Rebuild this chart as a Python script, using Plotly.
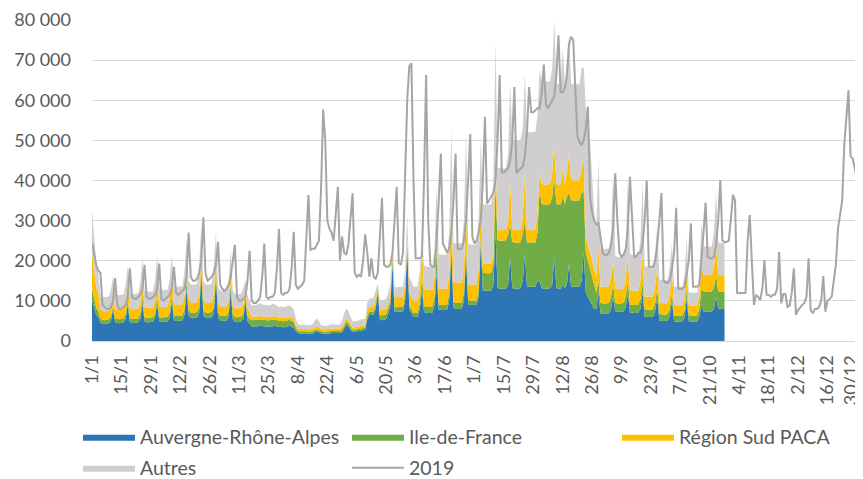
import plotly.graph_objects as go
import numpy as np

# daily values in thousands, 2020 from 1/1 (Wed) to 28/10, one row per week (Sun..Sat)
auvergne_k = [
    10.2, 8.5, 6.5, 6.0,
    4.6, 4.3, 4.2, 4.3, 4.4, 5.0, 8.0,
    4.6, 4.4, 4.4, 4.5, 4.6, 5.5, 9.0,
    4.8, 4.5, 4.5, 4.6, 4.7, 5.6, 9.5,
    4.9, 4.6, 4.7, 4.7, 4.8, 5.8, 9.5,
    5.0, 4.7, 4.8, 4.8, 4.9, 6.0, 10.0,
    5.2, 5.0, 5.0, 5.1, 5.2, 6.5, 13.0,
    6.5, 5.8, 5.7, 5.8, 5.9, 7.0, 16.5,
    6.5, 5.8, 5.7, 5.8, 5.9, 7.0, 15.5,
    6.0, 5.0, 5.0, 5.0, 5.1, 6.0, 12.5,
    5.5, 4.8, 4.7, 4.8, 4.9, 5.5, 10.0,
    5.0, 4.2, 3.6, 3.6, 3.6, 3.7, 3.8,
    3.7, 3.6, 3.6, 3.6, 3.6, 3.7, 3.8,
    3.6, 3.5, 3.5, 3.4, 3.5, 3.6, 3.8,
    3.5, 3.3, 2.5, 2.0, 1.9, 1.9, 2.0,
    1.9, 1.8, 1.9, 1.9, 2.2, 2.4, 2.2,
    1.9, 1.8, 1.8, 1.8, 1.9, 2.0, 2.0,
    1.9, 1.9, 2.0, 2.2, 3.2, 4.0, 3.6,
    3.0, 2.2, 2.3, 2.4, 2.5, 2.7, 2.8,
    2.8, 5.5, 6.5, 6.5, 6.6, 8.0, 12.3,
    5.3, 5.2, 5.3, 5.5, 7.0, 9.0, 19.3,
    7.3, 7.2, 7.3, 7.3, 7.4, 10.0, 23.5,
    8.0, 7.0, 6.0, 6.0, 6.1, 8.0, 13.0,
    7.2, 7.0, 7.0, 7.0, 7.1, 9.0, 17.0,
    7.8, 7.7, 7.7, 7.7, 7.8, 10.0, 22.7,
    8.2, 8.0, 8.0, 8.0, 8.1, 10.0, 21.0,
    9.2, 9.0, 9.0, 9.0, 9.1, 11.0, 24.3,
    12.6, 12.5, 12.5, 12.5, 12.6, 14.0, 27.0,
    13.2, 13.0, 13.0, 13.0, 13.1, 14.0, 21.0,
    13.2, 13.0, 13.0, 13.0, 13.2, 15.0, 21.8,
    13.6, 13.5, 13.5, 13.5, 13.6, 15.0, 14.8,
    13.2, 13.0, 13.0, 13.0, 13.2, 14.0, 20.6,
    13.2, 13.0, 13.0, 14.0, 13.2, 14.0, 19.3,
    13.6, 13.5, 13.5, 13.5, 13.6, 15.0, 22.2,
    12.0, 11.0, 10.0, 9.0, 8.0, 8.0, 12.0,
    6.9, 6.8, 6.7, 6.8, 6.9, 8.0, 11.0,
    7.4, 7.3, 7.2, 7.3, 7.4, 8.5, 12.0,
    7.1, 7.0, 7.0, 7.0, 7.1, 8.0, 12.0,
    6.1, 6.0, 6.0, 6.0, 6.1, 7.5, 11.0,
    5.1, 5.0, 5.0, 5.0, 5.1, 6.5, 10.0,
    4.9, 4.8, 4.8, 4.8, 4.9, 6.0, 10.5,
    4.9, 4.8, 4.8, 4.8, 4.9, 6.0, 9.0,
    7.4, 7.3, 7.3, 7.3, 7.4, 8.0, 11.0,
    8.1, 8.0, 8.0, 8.0,
]

idf_k = [
    3.0, 2.5, 1.8, 1.5,
    1.0, 1.0, 1.0, 1.0, 1.0, 1.0, 1.0,
    1.0, 1.0, 1.0, 1.0, 1.0, 1.1, 1.2,
    1.0, 1.0, 1.0, 1.0, 1.0, 1.1, 1.3,
    1.1, 1.1, 1.1, 1.1, 1.1, 1.2, 1.4,
    1.1, 1.1, 1.1, 1.1, 1.1, 1.3, 1.5,
    1.2, 1.2, 1.2, 1.2, 1.2, 1.4, 1.8,
    1.3, 1.3, 1.3, 1.3, 1.3, 1.5, 1.8,
    1.3, 1.3, 1.3, 1.3, 1.3, 1.5, 1.8,
    1.2, 1.2, 1.2, 1.2, 1.2, 1.3, 1.5,
    1.2, 1.2, 1.2, 1.2, 1.2, 1.2, 1.2,
    1.2, 1.3, 1.6, 1.6, 1.6, 1.6, 1.6,
    1.6, 1.6, 1.6, 1.6, 1.6, 1.6, 1.6,
    1.5, 1.5, 1.5, 1.5, 1.5, 1.5, 1.5,
    1.5, 1.5, 0.8, 0.5, 0.5, 0.5, 0.5,
    0.5, 0.5, 0.5, 0.5, 0.5, 0.5, 0.5,
    0.5, 0.5, 0.5, 0.5, 0.5, 0.5, 0.5,
    0.5, 0.5, 0.5, 0.6, 0.7, 0.8, 0.8,
    0.7, 0.5, 0.5, 0.5, 0.5, 0.5, 0.5,
    0.5, 0.8, 0.8, 0.8, 0.8, 0.9, 0.8,
    1.2, 1.2, 1.2, 1.2, 1.2, 1.2, 1.5,
    1.2, 1.2, 1.2, 1.2, 1.2, 1.3, 0.7,
    1.0, 1.0, 1.0, 1.0, 1.0, 1.5, 3.0,
    1.5, 1.5, 1.5, 1.5, 1.5, 2.0, 5.5,
    1.3, 1.3, 1.3, 1.3, 1.3, 2.0, 1.6,
    1.5, 1.5, 1.5, 1.5, 1.5, 2.0, 3.3,
    1.0, 1.0, 1.0, 1.0, 1.0, 2.0, 1.7,
    4.4, 4.4, 4.4, 4.4, 4.4, 5.0, 11.9,
    12.0, 12.0, 12.0, 12.0, 12.0, 12.5, 8.0,
    11.5, 11.5, 11.5, 11.5, 11.5, 12.0, 8.0,
    11.0, 11.0, 11.0, 11.0, 11.0, 12.0, 23.0,
    21.0, 21.0, 21.0, 21.0, 21.0, 22.0, 20.0,
    21.0, 21.0, 21.0, 22.0, 21.0, 22.0, 17.7,
    21.5, 21.5, 21.5, 21.5, 21.5, 22.0, 15.0,
    10.0, 9.0, 8.0, 7.0, 6.0, 4.0, 3.0,
    2.6, 2.6, 2.6, 2.6, 2.6, 3.0, 3.0,
    2.1, 2.1, 2.1, 2.1, 2.1, 2.5, 3.0,
    2.0, 2.0, 2.0, 2.0, 2.0, 2.5, 2.5,
    1.8, 1.8, 1.8, 1.8, 1.8, 2.0, 2.0,
    1.6, 1.6, 1.6, 1.6, 1.6, 1.8, 2.0,
    1.5, 1.5, 1.5, 1.5, 1.5, 1.8, 2.0,
    1.5, 1.5, 1.5, 1.5, 1.5, 2.0, 4.0,
    5.0, 5.0, 5.0, 5.0, 5.0, 5.5, 5.5,
    4.3, 4.3, 4.3, 4.3,
]

paca_k = [
    8.7, 6.5, 5.0, 4.5,
    2.3, 2.2, 2.2, 2.2, 2.2, 2.6, 3.2,
    2.4, 2.3, 2.3, 2.3, 2.3, 2.8, 4.0,
    2.5, 2.4, 2.4, 2.4, 2.4, 3.0, 4.5,
    2.6, 2.5, 2.5, 2.5, 2.5, 3.0, 4.5,
    2.7, 2.6, 2.6, 2.6, 2.6, 3.2, 4.5,
    2.9, 2.8, 2.8, 2.8, 2.8, 3.5, 4.0,
    2.6, 2.5, 2.5, 2.5, 2.5, 3.5, 3.6,
    2.6, 2.5, 2.5, 2.5, 2.5, 3.5, 3.4,
    2.4, 2.3, 2.3, 2.3, 2.3, 2.8, 3.5,
    2.3, 2.2, 2.2, 2.2, 2.2, 2.5, 1.5,
    2.0, 1.8, 0.8, 0.8, 0.8, 0.8, 0.8,
    0.8, 0.8, 0.8, 0.8, 0.8, 0.8, 0.8,
    0.8, 0.8, 0.8, 0.8, 0.8, 0.8, 0.8,
    0.8, 0.8, 0.6, 0.6, 0.6, 0.6, 0.6,
    0.6, 0.6, 0.6, 0.6, 0.7, 0.8, 0.7,
    0.6, 0.6, 0.6, 0.6, 0.6, 0.6, 0.6,
    0.6, 0.6, 0.6, 0.7, 0.8, 0.8, 0.8,
    0.7, 0.6, 0.6, 0.6, 0.6, 0.6, 0.6,
    0.6, 1.2, 1.2, 1.2, 1.2, 1.5, 0.7,
    1.4, 1.4, 1.4, 1.4, 1.4, 1.8, 2.0,
    2.5, 2.5, 2.5, 2.5, 2.5, 3.0, 1.0,
    3.0, 3.0, 3.0, 3.0, 3.0, 4.0, 8.0,
    4.2, 4.2, 4.2, 4.2, 4.2, 5.0, 3.5,
    4.0, 4.0, 4.0, 4.0, 4.0, 5.0, 10.7,
    5.0, 5.0, 5.0, 5.0, 5.0, 6.0, 10.0,
    4.0, 4.0, 4.0, 4.0, 4.0, 5.0, 10.0,
    2.4, 2.4, 2.4, 2.4, 2.4, 3.0, 9.1,
    2.6, 2.6, 2.6, 2.6, 2.6, 3.0, 11.0,
    3.1, 3.1, 3.1, 3.1, 3.1, 4.0, 12.0,
    3.1, 3.1, 3.1, 3.1, 3.1, 5.0, 4.2,
    5.0, 5.0, 5.0, 5.0, 5.0, 6.0, 7.8,
    5.0, 5.0, 5.0, 7.0, 5.0, 6.0, 9.8,
    5.0, 5.0, 5.0, 5.0, 5.0, 6.0, 8.4,
    4.0, 4.0, 4.0, 4.0, 4.0, 4.0, 9.0,
    4.1, 4.1, 4.1, 4.1, 4.1, 5.0, 6.0,
    3.6, 3.6, 3.6, 3.6, 3.6, 4.5, 6.0,
    3.5, 3.5, 3.5, 3.5, 3.5, 4.5, 7.0,
    3.2, 3.2, 3.2, 3.2, 3.2, 4.0, 5.5,
    2.8, 2.8, 2.8, 2.8, 2.8, 3.5, 5.0,
    2.6, 2.6, 2.6, 2.6, 2.6, 3.2, 5.0,
    2.5, 2.5, 2.5, 2.5, 2.5, 3.5, 6.0,
    4.2, 4.2, 4.2, 4.2, 4.2, 5.0, 7.5,
    4.1, 4.1, 4.1, 4.1,
]

autres_k = [
    10.7, 8.5, 6.5, 5.0,
    3.6, 3.5, 3.5, 3.5, 3.5, 4.0, 4.0,
    3.8, 3.7, 3.7, 3.7, 3.7, 4.5, 4.5,
    3.9, 3.8, 3.8, 3.8, 3.8, 4.8, 5.5,
    4.1, 4.0, 4.0, 4.0, 4.0, 5.0, 6.0,
    4.3, 4.2, 4.2, 4.2, 4.2, 5.0, 5.5,
    4.6, 4.5, 4.5, 4.5, 4.5, 6.0, 7.0,
    4.6, 4.5, 4.5, 4.5, 4.5, 7.0, 7.0,
    4.6, 4.5, 4.5, 4.5, 4.5, 7.0, 6.5,
    4.1, 4.0, 4.0, 4.0, 4.0, 5.0, 5.2,
    3.6, 3.5, 3.5, 3.5, 3.5, 4.0, 2.5,
    3.0, 2.8, 2.8, 3.0, 2.9, 3.1, 3.2,
    3.0, 2.9, 3.0, 2.8, 3.0, 3.2, 3.0,
    2.8, 2.7, 2.8, 2.8, 2.7, 2.9, 2.8,
    2.6, 2.4, 1.6, 1.2, 1.0, 1.0, 1.0,
    1.0, 1.0, 1.1, 1.2, 1.8, 2.0, 1.5,
    1.0, 0.9, 0.9, 0.9, 1.0, 1.1, 1.0,
    1.0, 1.0, 1.1, 1.5, 2.3, 2.5, 2.2,
    1.8, 1.5, 1.5, 1.5, 1.5, 1.6, 1.6,
    1.6, 2.1, 2.1, 2.1, 2.1, 2.2, 0.6,
    2.4, 2.4, 2.4, 2.4, 2.4, 2.5, 2.5,
    2.5, 2.5, 2.5, 2.5, 2.5, 3.0, 6.2,
    4.0, 3.5, 3.5, 3.5, 3.5, 4.0, 2.5,
    5.8, 5.8, 5.8, 5.8, 5.8, 7.0, 12.4,
    8.5, 8.5, 8.5, 8.5, 8.5, 10.0, 18.0,
    9.8, 9.8, 9.8, 9.8, 9.8, 12.0, 17.7,
    10.0, 10.0, 10.0, 10.0, 10.0, 13.0, 14.0,
    14.7, 14.7, 14.7, 14.7, 14.7, 17.0, 26.5,
    15.4, 15.4, 15.4, 15.4, 15.4, 17.0, 24.0,
    22.4, 22.4, 22.4, 22.4, 22.4, 22.0, 24.9,
    24.4, 24.4, 24.4, 24.4, 24.4, 24.0, 25.5,
    25.6, 25.6, 25.6, 25.6, 25.6, 26.0, 31.6,
    25.0, 25.0, 25.0, 30.0, 25.0, 28.0, 29.2,
    24.0, 24.0, 24.0, 24.0, 24.0, 25.0, 22.7,
    32.0, 32.0, 28.0, 20.0, 14.0, 12.0, 21.5,
    9.5, 9.5, 9.5, 9.5, 9.5, 10.0, 21.8,
    8.0, 8.0, 8.0, 8.0, 8.0, 9.0, 19.5,
    9.0, 9.0, 9.0, 9.0, 9.0, 10.0, 18.2,
    7.5, 7.5, 7.5, 7.5, 7.5, 8.5, 10.8,
    5.8, 5.8, 5.8, 5.8, 5.8, 7.0, 7.3,
    4.6, 4.6, 4.6, 4.6, 4.6, 5.5, 8.5,
    3.2, 3.2, 3.2, 3.2, 3.2, 5.0, 10.3,
    7.0, 7.0, 7.0, 7.0, 7.0, 9.0, 13.2,
    8.0, 8.0, 8.0, 8.0,
]

# 2019, full year, thousands
y2019_k = [
    24.5, 22, 19, 17.5, 17, 9, 8.5, 8, 8, 8.5,
    10, 15.7, 9, 8, 8, 8.5, 9, 11, 18.1, 11,
    10.5, 10.5, 11, 11.5, 13, 19, 11, 10.5, 10.5, 11,
    11.5, 13, 19.3, 10.5, 10, 10.5, 11, 11.5, 13.5, 18.5,
    12, 11.5, 12, 12.5, 13, 16, 27, 16, 15, 15,
    15.5, 17, 20, 30.8, 17, 15, 15.5, 16, 17, 19,
    24.7, 14, 13, 12.5, 13, 14, 16, 20, 24, 11,
    10, 10, 10.5, 11, 15, 22.5, 10, 9.5, 9.5, 10,
    11, 16, 24.3, 11, 10.5, 11, 11, 12, 18, 27.9,
    12, 11.5, 12, 12, 13, 18, 27.2, 14, 13, 13.5,
    14, 15, 25, 36.4, 22.7, 23, 23, 24, 25, 38,
    57.7, 50, 30, 28, 27, 25, 33, 38.4, 20, 26,
    22, 21.5, 24, 30, 36.8, 17, 16, 16.5, 16, 20,
    26.6, 22, 16, 20.6, 16, 15.5, 17, 26, 35.7, 19,
    18.5, 18.5, 19, 22, 30, 38.4, 19.5, 19, 22, 42,
    60, 68.5, 69.2, 40, 20.6, 20.6, 20.6, 21, 40, 66.3,
    30, 19, 18.5, 18.5, 25, 35, 46.7, 24.3, 23, 22,
    23, 27, 35, 46.7, 23, 23, 23, 25, 30, 40,
    51.6, 26, 24.3, 25, 27, 30, 40, 55.9, 34.3, 35,
    36, 37, 40, 50, 66.3, 42, 42, 42.6, 43, 45,
    50, 63.3, 41.8, 42.5, 43, 43.5, 46, 52, 63.3, 57,
    57, 57.5, 58, 58, 62, 68.9, 59, 58, 59, 60,
    61, 66, 76.2, 62, 62, 63, 66, 74, 75.8, 75,
    62, 51, 49.6, 48.8, 50, 53, 58.4, 36, 32, 30,
    29, 29.3, 26, 22, 21.4, 21.4, 22, 24, 28, 41.8,
    30, 22, 21, 21.5, 23, 28, 40.9, 30, 21, 21,
    22, 22, 24, 30, 40, 18.5, 18.5, 18.5, 20, 24,
    30, 36.9, 15, 14.5, 14.5, 15, 18, 22, 33.2, 13,
    13, 13, 13.5, 17, 20, 29.3, 13.5, 13.5, 13.5, 14,
    20, 27, 34.5, 21, 20.6, 20.6, 21, 24, 30, 40.1,
    25, 24.7, 24.7, 25, 30, 36.4, 35, 12, 11.9, 11.9,
    11.9, 12, 25, 31.4, 20, 9, 11.5, 11, 10.2, 13,
    20.2, 11.5, 11.5, 11, 11.5, 11.5, 13, 22.2, 9.4, 11.7,
    11.7, 8.5, 8.8, 12, 18.1, 6.5, 7.7, 8.5, 9, 9.5,
    11, 20.6, 7.7, 6.9, 8, 8, 8.5, 10, 16.2, 7.3,
    10, 10.5, 11, 15, 19, 28, 32, 35, 49, 55,
    62.5, 46, 45.5, 43, 40, 35,
]

tick_labels = ["1/1", "15/1", "29/1", "12/2", "26/2", "11/3", "25/3", "8/4", "22/4",
               "6/5", "20/5", "3/6", "17/6", "1/7", "15/7", "29/7", "12/8", "26/8",
               "9/9", "23/9", "7/10", "21/10", "4/11", "18/11", "2/12", "16/12", "30/12"]

days = np.arange(len(auvergne_k))
days_2019 = np.arange(len(y2019_k))
tick_pos = np.arange(len(tick_labels)) * 14.0
tick_pos[-1] -= 2.5  # Excel pulls the last label inside the chart edge

# the page body has an 8px margin, so the figure is 8px smaller than the window
OFF = 8
W, H = 863 - OFF, 479 - OFF

series = [
    ("Auvergne-Rhône-Alpes", auvergne_k, "#2E75B6", "legend"),
    ("Ile-de-France", idf_k, "#70AD47", "legend2"),
    ("Région Sud PACA", paca_k, "#FFC000", "legend3"),
    ("Autres", autres_k, "#D0CECE", "legend4"),
]

fig = go.Figure()
for name, vals, color, leg in series:
    fig.add_trace(go.Scatter(
        x=days, y=np.array(vals) * 1000, name=name, mode="lines",
        stackgroup="regions", line=dict(width=0, color=color),
        fillcolor=color, legend=leg,
    ))

fig.add_trace(go.Scatter(
    x=days_2019, y=np.array(y2019_k) * 1000, name="2019", mode="lines",
    line=dict(color="#A5A5A5", width=2), legend="legend5",
))

font = dict(family="Lato, Carlito, sans-serif", size=18, color="#595959")
leg_font = dict(family="Lato, Carlito, sans-serif", size=19.5, color="#595959")


def leg(px_x, px_y):
    # one legend per entry, placed by page pixel of its swatch
    return dict(orientation="h", itemwidth=52, font=leg_font,
                xref="container", yref="container",
                x=(px_x - OFF - 5) / W, y=(H - (px_y - OFF)) / H,
                xanchor="left", yanchor="middle", bgcolor="rgba(0,0,0,0)")


fig.update_layout(
    width=W, height=H,
    margin=dict(l=92 - OFF, r=4, t=20 - OFF, b=138, autoexpand=False),
    paper_bgcolor="white", plot_bgcolor="white",
    font=font,
    separators=", ",
    showlegend=True,
    legend=leg(83, 437),
    legend2=leg(352, 437),
    legend3=leg(622, 437),
    legend4=leg(83, 468),
    legend5=leg(352, 468),
    xaxis=dict(
        range=[0, len(days_2019) - 1], tickmode="array", tickvals=tick_pos,
        ticktext=tick_labels, tickangle=-90, showgrid=False, zeroline=False,
        showline=True, linecolor="#D9D9D9", linewidth=1.3, ticks="",
        ticklabelstandoff=6, ticklabeloverflow="allow", tickfont=font,
        automargin=False,
    ),
    yaxis=dict(
        range=[0, 80000], dtick=10000, tickformat=",d", showgrid=True,
        gridcolor="#D9D9D9", gridwidth=1.3, zeroline=False, showline=False,
        ticks="", ticklabelstandoff=20, tickfont=font, automargin=False,
    ),
)

fig.write_html("out.html")
